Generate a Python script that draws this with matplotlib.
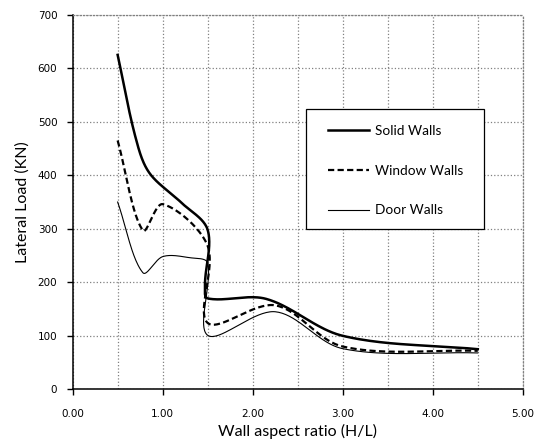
import matplotlib
matplotlib.use("Agg")
import matplotlib.pyplot as plt
from matplotlib.patches import Rectangle
import numpy as np

# values (points of an Excel smoothed scatter)
solid_x = [0.5, 0.7, 0.85, 1.2, 1.5, 1.47, 1.5, 2.15, 3.0, 4.5]
solid_walls = [625, 470, 405, 350, 298, 195, 170, 169, 100, 75]

window_x = [0.5, 0.78, 1.0, 1.5, 1.5, 2.25, 3.0, 4.5]
window_walls = [465, 297, 346, 268, 124, 157, 80, 72]

door_x = [0.5, 0.78, 1.0, 1.3, 1.5, 1.5, 2.25, 3.0, 4.5]
door_walls = [350, 218, 248, 246, 236, 101, 145, 76, 68]

x_ticks = [0, 1, 2, 3, 4, 5]
y_ticks = [0, 100, 200, 300, 400, 500, 600, 700]


def smooth(ax, xs, ys, n=40):
    # chord-length catmull-rom in screen space, close to excel's smoothed line
    pts = ax.transData.transform(np.column_stack([xs, ys]).astype(float))
    padded = np.vstack([pts[0], pts, pts[-1]])
    d = np.linalg.norm(np.diff(padded, axis=0), axis=1)
    d[d == 0] = 1e-6
    t = np.linspace(0, 1, n)[:, None]
    out = []
    for i in range(1, len(padded) - 2):
        p0, p1, p2, p3 = padded[i - 1], padded[i], padded[i + 1], padded[i + 2]
        d0, d1, d2 = d[i - 1], d[i], d[i + 1]
        m1 = (p2 - p0) / (d0 + d1)
        m2 = (p3 - p1) / (d1 + d2)
        c1 = p1 + m1 * d1 / 3
        c2 = p2 - m2 * d1 / 3
        seg = ((1 - t) ** 3) * p1 + 3 * ((1 - t) ** 2) * t * c1 + 3 * (1 - t) * t ** 2 * c2 + t ** 3 * p2
        out.append(seg)
    out = ax.transData.inverted().transform(np.vstack(out))
    return out[:, 0], out[:, 1]


fig = plt.figure(figsize=(5.34, 4.47), dpi=100)
ax = fig.add_axes([0.136, 0.129, 0.979 - 0.136, 0.967 - 0.129])
ax.set_xlim(0, 5)
ax.set_ylim(0, 700)

sx, sy = smooth(ax, solid_x, solid_walls)
wx, wy = smooth(ax, window_x, window_walls)
dx, dy = smooth(ax, door_x, door_walls)

ax.plot(sx, sy, color="black", lw=1.8, label="Solid Walls", zorder=3)
ax.plot(wx, wy, color="black", lw=1.6, ls=(0, (2.8, 1.5)), label="Window Walls", zorder=3)
ax.plot(dx, dy, color="black", lw=0.8, label="Door Walls", zorder=3)

ax.set_xticks(x_ticks)
ax.set_xticklabels(["%.2f" % v for v in x_ticks])
ax.set_xticks(np.arange(0.5, 5, 1.0), minor=True)
ax.set_yticks(y_ticks)

ax.grid(True, which="both", color="#808080", ls=":", lw=0.9, zorder=0)
ax.tick_params(axis="x", which="minor", length=0)
ax.tick_params(axis="both", which="major", direction="out", length=4, width=1,
               labelsize=7.5, colors="black")
ax.tick_params(axis="y", pad=7)
ax.tick_params(axis="x", pad=10)

for side in ["top", "right"]:
    ax.spines[side].set_color("#808080")
    ax.spines[side].set_linestyle(":")
    ax.spines[side].set_linewidth(0.9)
for side in ["left", "bottom"]:
    ax.spines[side].set_linewidth(1.1)

ax.set_xlabel("Wall aspect ratio (H/L)", fontsize=11.5, family="Lato", labelpad=4)
ax.set_ylabel("Lateral Load (KN)", fontsize=11.5, family="Lato", labelpad=6)

# legend frame drawn by hand: the box is wider than it is padded vertically
box = Rectangle((0.518, 0.428), 0.396, 0.320, transform=ax.transAxes,
                facecolor="white", edgecolor="black", lw=0.9, zorder=4)
ax.add_patch(box)
leg = ax.legend(loc="center left", bbox_to_anchor=(0.567, 0.584),
                prop={"family": "Lato", "size": 9.8}, frameon=False,
                handlelength=3.0, handletextpad=0.45,
                labelspacing=2.05, borderpad=0, borderaxespad=0)
leg.set_zorder(5)

fig.savefig("out.png", dpi=100)
